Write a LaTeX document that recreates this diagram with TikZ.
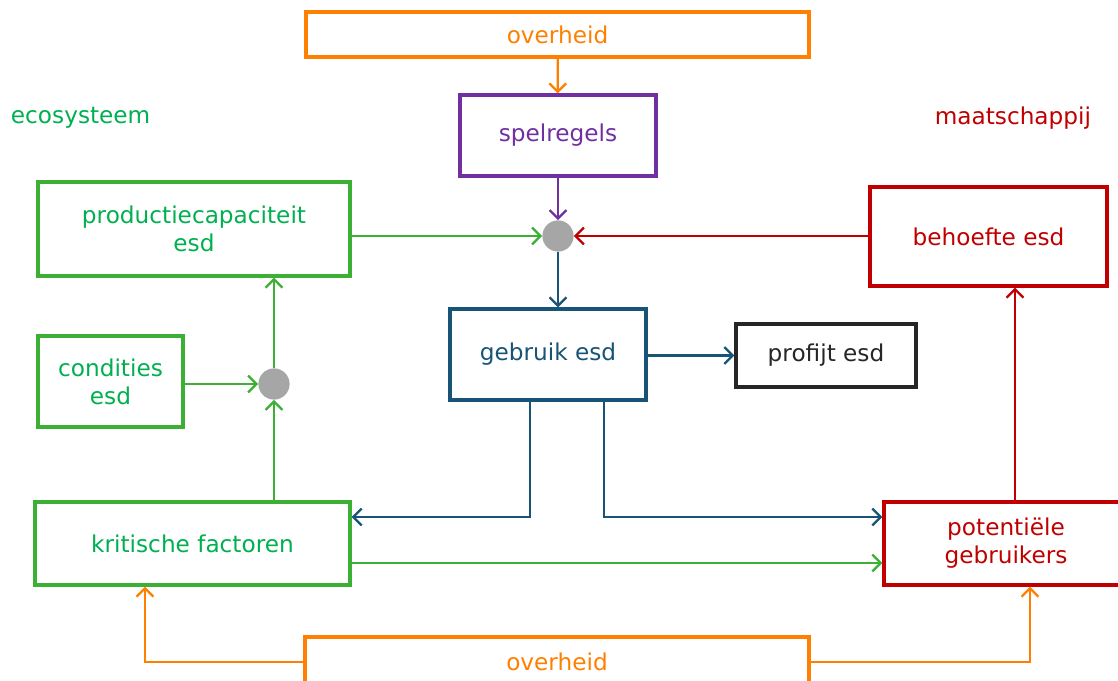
\documentclass[tikz,border=0pt]{standalone}
\usepackage{fontspec}
\setmainfont{DejaVu Sans}
\usepackage{tikz}
\usetikzlibrary{arrows.meta}

\definecolor{oranje}{RGB}{255,128,0}
\definecolor{groen}{RGB}{60,176,52}
\definecolor{groentekst}{RGB}{0,176,80}
\definecolor{paars}{RGB}{112,48,160}
\definecolor{rood}{RGB}{192,0,0}
\definecolor{blauw}{RGB}{23,84,117}
\definecolor{grijs}{RGB}{166,166,166}
\definecolor{zwart}{RGB}{38,38,38}

\begin{document}
\begin{tikzpicture}[
            x = 0.025cm, y = -0.025cm, % one unit is one pixel
            > = {Straight Barb[length=6pt,width=12pt]}, % open arrow head
            every node/.style = {font=\fontsize{16.5}{20}\selectfont},
            box/.style = {draw, line width=2.4pt, align=center, inner sep=0pt},
            knoop/.style = {shape=circle, fill=grijs, minimum size=0.78cm, inner sep=0pt},
            lijn/.style = {line width=1.6pt}
        ]
\useasboundingbox (0,0) rectangle (1118,681);

\node[box,draw=oranje,text=oranje,minimum width=12.575cm,minimum height=1.125cm] (OT) at (557.5,34.5) {overheid};
\node[box,draw=paars,text=paars,minimum width=4.9cm,minimum height=2.025cm] (SR) at (558,135.5) {spelregels};
\node[box,draw=groen,text=groentekst,minimum width=7.8cm,minimum height=2.35cm] (PC) at (194,229) {productiecapaciteit\\esd};
\node[box,draw=rood,text=rood,minimum width=5.925cm,minimum height=2.475cm] (BE) at (988.5,236.5) {behoefte esd};
\node[box,draw=blauw,text=blauw,minimum width=4.9cm,minimum height=2.275cm] (GE) at (548,354.5) {gebruik esd};
\node[box,draw=zwart,text=zwart,minimum width=4.5cm,minimum height=1.575cm] (PE) at (826,355.5) {profijt esd};
\node[box,draw=groen,text=groentekst,minimum width=3.625cm,minimum height=2.275cm] (CE) at (110.5,381.5) {condities\\esd};
\node[box,draw=groen,text=groentekst,minimum width=7.875cm,minimum height=2.075cm] (KF) at (192.5,543.5) {kritische factoren};
\node[box,draw=rood,text=rood,minimum width=6.1cm,minimum height=2.075cm] (PG) at (1006,543.5) {potentiële\\gebruikers};
\node[box,draw=oranje,text=oranje,minimum width=12.6cm,minimum height=1.25cm] (OB) at (557,662) {overheid};

\node[knoop] (K1) at (558,236) {};
\node[knoop] (K2) at (274,384) {};

\node[anchor=west,text=groentekst] (EC) at (6,118) {ecosysteem};
\node[anchor=east,text=rood] (MA) at (1096,118) {maatschappij};

% hulppunten voor de knikken
\coordinate (A1) at (530,517);
\coordinate (A2) at (604,517);
\coordinate (A3) at (0,563);
\coordinate (A4) at (1015,0);
\coordinate (B1) at (145,0);
\coordinate (B2) at (1030,0);

 \draw [->,lijn,oranje] (OT) -- (SR);
 \draw [->,lijn,paars] (SR) -- (K1);
 \draw [->,lijn,groen] (PC.east |- K1) -- (K1);
 \draw [->,lijn,rood] (BE.west |- K1) -- (K1);
 \draw [->,lijn,blauw] (K1) -- (K1 |- GE.north);
 \draw [->,lijn,blauw] (GE.east |- PE) -- (PE);
  \draw [->,lijn,blauw] (GE.south -| A1) |- (KF.east |- A1);
  \draw [->,lijn,blauw] (GE.south -| A2) |- (PG.west |- A2);
  \draw [->,lijn,groen] (KF.east |- A3) -- (PG.west |- A3);
   \draw [->,lijn,groen] (CE.east |- K2) -- (K2);
   \draw [->,lijn,groen] (K2 |- KF.north) -- (K2);
   \draw [->,lijn,groen] (K2) -- (K2 |- PC.south);
   \draw [->,lijn,rood] (PG.north -| A4) -- (BE.south -| A4);
    \draw [->,lijn,oranje] (OB.west) -| (KF.south -| B1);
    \draw [->,lijn,oranje] (OB.east) -| (PG.south -| B2);
\end{tikzpicture}
\end{document}
